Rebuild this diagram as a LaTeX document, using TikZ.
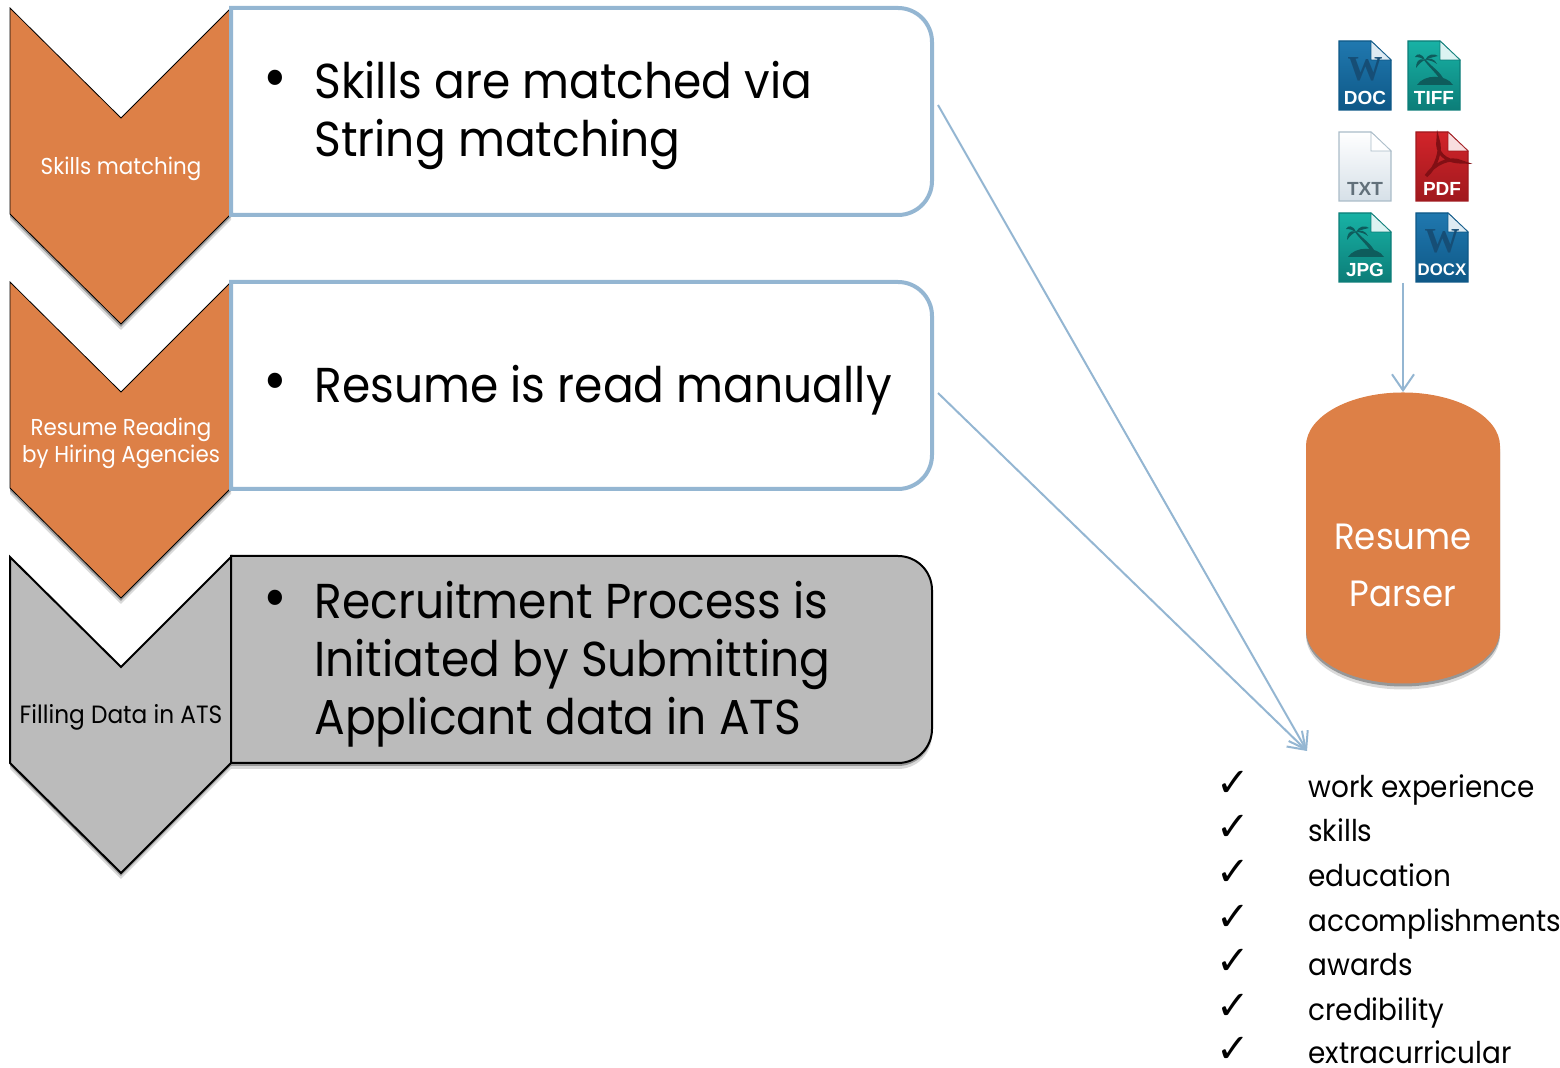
\documentclass[tikz,border=0pt]{standalone}
\usepackage{fontspec}
\setmainfont[FakeStretch=0.93]{Poppins}
\newfontfamily\iconfont{Liberation Sans}
\newfontfamily\wfont{Liberation Serif}
\newfontfamily\checkfont{DejaVu Sans}
\usetikzlibrary{positioning}
\usetikzlibrary{shapes.geometric,shadows,arrows.meta}
\definecolor{chevorange}{RGB}{221,128,71}
\definecolor{boxblue}{RGB}{148,182,210}
\definecolor{atsgrey}{RGB}{187,187,187}
\definecolor{wordtop}{RGB}{32,120,175}
\definecolor{wordbot}{RGB}{14,88,135}
\definecolor{wordmark}{RGB}{22,78,118}
\definecolor{palmtop}{RGB}{24,178,165}
\definecolor{palmbot}{RGB}{12,125,120}
\definecolor{palmmark}{RGB}{14,92,92}
\definecolor{txtbot}{RGB}{214,224,232}
\definecolor{txtedge}{RGB}{170,188,200}
\definecolor{txtlabel}{RGB}{98,112,122}
\definecolor{pdftop}{RGB}{210,36,42}
\definecolor{pdfbot}{RGB}{160,25,30}
\definecolor{pdfmark}{RGB}{130,15,20}
\tikzset{
  softshadow/.style={
    drop shadow={shadow xshift=0pt,shadow yshift=-3pt,opacity=.15,fill=black},
    drop shadow={shadow xshift=0pt,shadow yshift=-1.5pt,opacity=.3,fill=black}},
  orangechev/.style={fill=chevorange,softshadow},
  greychev/.style={fill=atsgrey,draw=black,line width=1pt,softshadow},
  stagebox/.style={rectangle,minimum width=350.5pt,minimum height=103.5pt,inner sep=0pt,outer sep=0pt},
  blueframe/.style={draw=boxblue,line width=2pt,fill=white},
  greyframe/.style={draw=black,line width=1pt,fill=atsgrey,softshadow},
  chevtext/.style={font=\fontsize{11.5}{13.6}\selectfont,align=center,inner sep=0pt},
  bigtext/.style={font=\fontsize{24.5}{29}\selectfont,align=left,anchor=west,inner sep=0pt},
  dotmark/.style={font=\fontsize{31}{31}\selectfont,inner sep=0pt},
  parserarrow/.style={draw=boxblue,line width=1pt,-{Straight Barb[length=8pt,width=11pt]}},
  listtext/.style={font=\fontsize{15}{20}\selectfont,anchor=base west,inner sep=0pt},
  checktext/.style={font=\checkfont\fontsize{20}{20}\selectfont,anchor=base,inner sep=0pt},
  icontext/.style={font=\iconfont\bfseries,inner sep=0pt},
}
% chevron with its notch on top: y of the top corners, style
\newcommand{\chevronshape}[2]{
  \draw [#2] (10,#1) -- (121,#1+110) -- (231,#1) -- (231,#1+206) -- (121,#1+316) -- (10,#1+206) -- cycle;
}
% frame of a box, rounded on its right side only: node, style
\newcommand{\rightround}[2]{
  \draw [#2] (#1.south west) -- (#1.north west) [rounded corners=17pt] -- (#1.north east) -- (#1.south east) [sharp corners] -- cycle;
}
% file icon: x, y, top colour, bottom colour, border, label, label colour, label size
\newcommand{\fileicon}[8]{
  \begin{scope}[shift={(#1,#2)}]
    \path [draw=#5,line width=.6pt,top color=#3,bottom color=#4] (0,0) -- (32,0) -- (52,19) -- (52,69) -- (0,69) -- cycle;
    \path [fill=white!85!#3,draw=#5,line width=.3pt] (32,0) -- (52,19) -- (32,19) -- cycle;
    \node [icontext,text=#7,font=\iconfont\bfseries\fontsize{#8}{10}\selectfont] (#6label) at (26,57) {#6};
  \end{scope}
}
\newcommand{\wordglyph}[2]{
  \node [font=\wfont\bfseries\fontsize{17.5}{18}\selectfont,text=wordmark,inner sep=0pt] (#1) at (#2) {W};
}
\newcommand{\palmglyph}[2]{
  \begin{scope}[shift={(#1,#2)},fill=palmmark]
    \fill (-15,19) .. controls (-8,8) and (14,8) .. (21,19) -- cycle;
    \fill (7,12) .. controls (3,6) and (-4,0) .. (-8,-6) -- (-6,-6) .. controls (-1,0) and (7,5) .. (11,12) -- cycle;
    \fill (-7,-6) .. controls (-14,-9) and (-16,-3) .. (-16,2) .. controls (-13,-2) and (-10,-5) .. (-7,-6) -- cycle;
    \fill (-7,-6) .. controls (-10,-13) and (-15,-13) .. (-17,-9) .. controls (-13,-9) and (-10,-8) .. (-7,-6) -- cycle;
    \fill (-7,-6) .. controls (-4,-12) and (2,-13) .. (6,-10) .. controls (2,-9) and (-3,-8) .. (-7,-6) -- cycle;
    \fill (-7,-6) .. controls (-3,-9) and (3,-7) .. (5,-2) .. controls (1,-5) and (-3,-6) .. (-7,-6) -- cycle;
  \end{scope}
}
\begin{document}
\begin{tikzpicture}[x=0.5pt,y=-0.5pt,node distance=33.5pt]
    \useasboundingbox (0,0) rectangle (1560,1068);
    % Chevrons
    \chevronshape{8}{orangechev}
    \chevronshape{282}{orangechev}
    \chevronshape{557}{greychev}
    \node [chevtext,text=white] (skillslabel) at (121,169) {Skills matching};
    \node [chevtext,text=white] (readinglabel) at (121,443) {Resume Reading\\by Hiring Agencies};
    \node [chevtext,font=\fontsize{12.5}{14}\selectfont] (fillinglabel) at (121,717) {Filling Data in ATS};
    % Boxes
    \node [stagebox] (box1) at (581.5,111.5) {};
    \node [stagebox,below=of box1] (box2) {};
    \node [stagebox,below=of box2] (box3) {};
    \rightround{box1}{blueframe}
    \rightround{box2}{blueframe}
    \rightround{box3}{greyframe}
    \node [bigtext] (skillstext) at (314,115) {Skills are matched via\\String matching};
    \node [bigtext] (readingtext) at (314,390) {Resume is read manually};
    \node [bigtext] (fillingtext) at (314,664) {Recruitment Process is\\Initiated by Submitting\\Applicant data in ATS};
    \node [dotmark,left=13pt of skillstext.west,yshift=15.5pt] (dot1) {•};
    \node [dotmark,left=13pt of readingtext.west,yshift=1.5pt] (dot2) {•};
    \node [dotmark,left=13pt of fillingtext.west,yshift=30pt] (dot3) {•};
    % File icons
    \fileicon{1339}{41}{wordtop}{wordbot}{wordbot}{DOC}{white}{9.5}
    \wordglyph{docw}{1365,69}
    \fileicon{1408}{41}{palmtop}{palmbot}{palmbot}{TIFF}{white}{9.5}
    \palmglyph{1432}{66}
    \fileicon{1339}{132}{white}{txtbot}{txtedge}{TXT}{txtlabel}{9.5}
    \fileicon{1416}{132}{pdftop}{pdfbot}{pdfbot}{PDF}{white}{9.5}
    \draw [draw=pdfmark,line width=1.6pt] (1426,176) .. controls (1436,168) and (1442,150) .. (1438,140) .. controls (1436,152) and (1444,162) .. (1462,162) .. controls (1450,156) and (1434,164) .. (1426,176);
    \fileicon{1339}{213}{palmtop}{palmbot}{palmbot}{JPG}{white}{9.5}
    \palmglyph{1363}{238}
    \fileicon{1416}{213}{wordtop}{wordbot}{wordbot}{DOCX}{white}{8.4}
    \wordglyph{docxw}{1442,241}
    % Parser
    \node [cylinder,shape border rotate=90,aspect=0.78,fill=chevorange,minimum width=97pt,minimum height=145.5pt,inner sep=0pt,align=center,text=white,font=\fontsize{18.3}{28.5}\selectfont,softshadow] (parser) at (1403,565) {Resume\\Parser};
    % Connectors
    \coordinate (iconsout) at (1403,283);
    \coordinate (skillsout) at (938,105);
    \coordinate (readingout) at (938,393);
    \coordinate (listin) at (1307,751);
    \draw [parserarrow] (iconsout) -- (iconsout |- parser.north);
    \draw [parserarrow] (skillsout) -- (listin);
    \draw [parserarrow] (readingout) -- (listin);
    % Extracted fields
    \foreach \field/\ypos [count=\i] in {work experience/798,skills/842,education/887,accomplishments/932,awards/976,credibility/1021,extracurricular/1064} {
      \node [checktext] (check\i) at (1233,\ypos-1) {✓};
      \node [listtext] (field\i) at (1308,\ypos) {\field};
    }
\end{tikzpicture}
\end{document}
